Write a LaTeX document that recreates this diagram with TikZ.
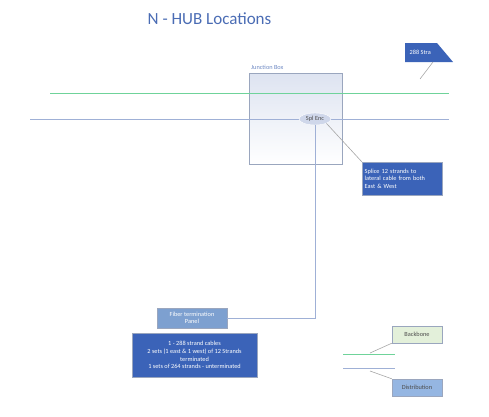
\documentclass[tikz,border=0pt]{standalone}
\usepackage{fontspec}
\setmainfont{Carlito}
\usetikzlibrary{shapes.geometric}
\definecolor{titleblue}{HTML}{4A6CB4}
\definecolor{boxblue}{HTML}{3B63B8}
\definecolor{paneblue}{HTML}{7DA0D0}
\definecolor{linegreen}{HTML}{6FD39A}
\definecolor{lineblue}{HTML}{9FB0D6}
\definecolor{edgegray}{HTML}{9AA6BE}
\definecolor{bbgreen}{HTML}{E3F0DA}
\definecolor{distblue}{HTML}{95B6E2}
\begin{document}
\begin{tikzpicture}[x=1pt,y=-1pt,
  every node/.style={font=\fontsize{6.3}{7.6}\selectfont, inner sep=1.5pt},
  darkbox/.style={draw=edgegray, fill=boxblue, text=white, align=center},
  legendbox/.style={draw=edgegray, minimum width=50pt, minimum height=17pt, text=black!70},
  link/.style={draw=gray!70, line width=0.6pt}]
  \useasboundingbox (0,0) rectangle (489,416);

  \node[text=titleblue, font=\fontsize{17}{19}\selectfont, anchor=west] (title) at (146,19) {N - HUB Locations};

  % cables
  \coordinate (gw) at (50,93);
  \coordinate (ge) at (449,93);
  \coordinate (bw) at (30,119);
  \coordinate (be) at (449,119);

  \node[draw=edgegray, top color=lineblue!35, bottom color=white, minimum width=93pt, minimum height=91pt] (jbox) at (295.5,118.5) {};
  \node[text=titleblue!80, anchor=south west, inner sep=0pt] (jlabel) at (251,70) {Junction Box};

  \draw[linegreen, line width=1pt] (gw) -- (ge);
  \draw[lineblue, line width=1pt] (bw) -- (be);

  \node[ellipse, fill=lineblue!50, draw=white, minimum width=32pt, minimum height=12pt, inner sep=0pt, text=black!70] (spl) at (315,119) {Spl Enc};

  \node[darkbox, align=left, anchor=north west, minimum width=80pt, minimum height=33pt, text width=75pt] (splice) at (362,162)
    {Splice 12 strands to\\lateral cable from both\\East \& West};

  \node[draw=edgegray, fill=paneblue, text=white, align=center, minimum width=70pt, minimum height=20pt] (panel) at (192,318)
    {Fiber termination\\Panel};
  \node[darkbox, minimum width=125pt, minimum height=44pt, anchor=north, inner sep=1pt] (cables) at (194.5,333)
    {1 - 288 strand cables\\2 sets (1 east \& 1 west) of 12 Strands\\terminated\\1 sets of 264 strands - unterminated};

  % 288 label
  \fill[boxblue] (405,43) -- (437,43) -- (453,62) -- (405,62) -- cycle;
  \node[text=white, anchor=west] (strands) at (408,52.5) {288 Stra};
  \coordinate (tip) at (420,79);

  \draw[link] (spl.south east) -- (splice.north west);
  \draw[lineblue, line width=1pt] (spl.south) |- (panel.east);
  \draw[link] (433,62) -- (tip);

  % legend
  \node[legendbox, fill=bbgreen] (backbone) at (417,334.5) {Backbone};
  \node[legendbox, fill=distblue] (distribution) at (417,387.5) {Distribution};
  \coordinate (lg1) at (343,354);
  \coordinate (lg2) at (395,354);
  \coordinate (lb1) at (343,368);
  \coordinate (lb2) at (395,368);
  \draw[linegreen, line width=1pt] (lg1) -- (lg2);
  \draw[lineblue, line width=1pt] (lb1) -- (lb2);
  \draw[link] (370,353) -- (backbone.south west);
  \draw[link] (370,371) -- (distribution.north west);
\end{tikzpicture}
\end{document}
